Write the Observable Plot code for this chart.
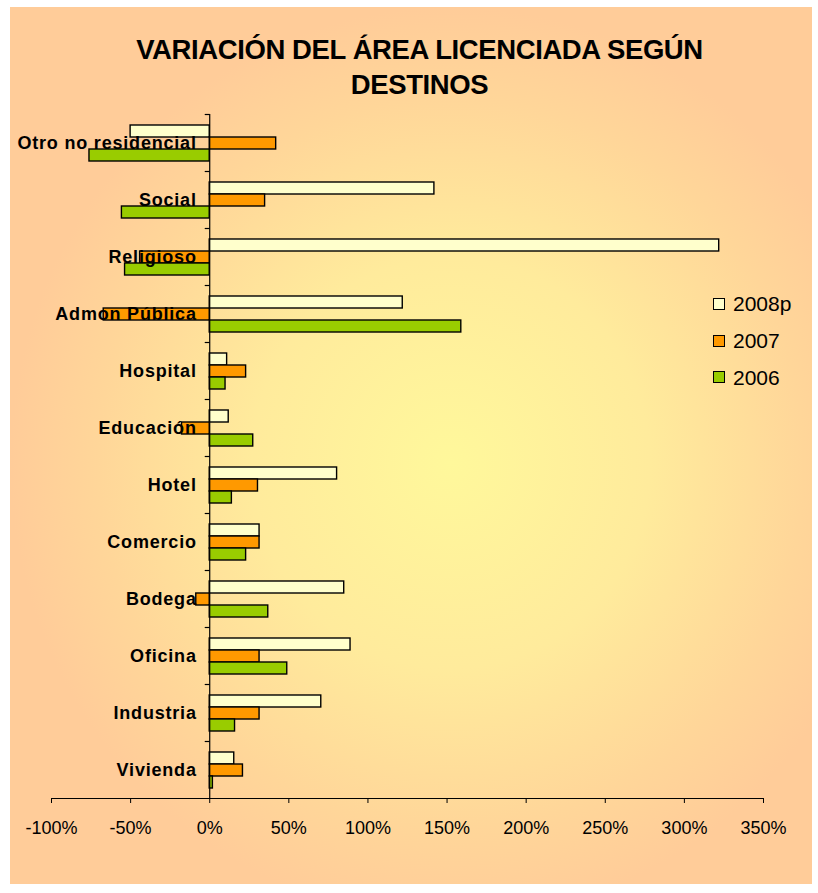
<!DOCTYPE html>
<html>
<head>
<meta charset="utf-8">
<script src="https://cdn.jsdelivr.net/npm/d3@7"></script>
<script src="https://cdn.jsdelivr.net/npm/@observablehq/plot@0.6"></script>
<style>
  html, body { margin: 0; padding: 0; background: #ffffff; }
  body { width: 818px; height: 893px; position: relative; overflow: hidden; font-family: "Liberation Sans", Arial, sans-serif; }
  #panel { position: absolute; left: 10px; top: 7px; width: 802px; height: 877px;
    background: radial-gradient(ellipse farthest-side at 55% 52%, #fff89b 0%, #ffeb9c 45%, #ffd699 80%, #ffcc99 100%); }
  #title { position: absolute; left: 0; top: 32px; width: 839px; text-align: center; font-weight: bold;
    font-size: 27.5px; letter-spacing: -0.4px; line-height: 35px; color: #000; }
  #chart { position: absolute; left: 0; top: 0; }
  #legend { position: absolute; left: 713px; top: 286px; font-size: 21px; color: #000; }
  #legend .item { height: 36.8px; display: flex; align-items: center; }
  #legend .sw { width: 10px; height: 10px; border: 1.5px solid #000; margin-right: 8px; margin-top: -1px; }
  g[aria-label="text"] text { letter-spacing: 0.8px; }
</style>
</head>
<body>
<div id="panel"></div>
<div id="chart"></div>
<div id="title">VARIACIÓN DEL ÁREA LICENCIADA SEGÚN<br>DESTINOS</div>
<div id="legend"></div>
<script>
const categories = ["Otro no residencial", "Social", "Religioso", "Admon Pública", "Hospital", "Educación", "Hotel", "Comercio", "Bodega", "Oficina", "Industria", "Vivienda"];
const series = ["2008p", "2007", "2006"];
const values2008p = [-50, 142, 322, 122, 11, 12, 80.5, 31.5, 85, 89, 70.5, 15.5];
const values2007 = [42, 35, -44, -67, 23, -17.5, 30.5, 31.5, -8.5, 31.5, 31.5, 21];
const values2006 = [-76, -55.5, -53.5, 159, 10, 27.5, 14, 23, 37, 49, 16, 2];
const xTicks = [-100, -50, 0, 50, 100, 150, 200, 250, 300, 350];
const colors = ["#ffffcc", "#ff9900", "#99cc00"];

const seriesValues = [values2008p, values2007, values2006];
const rows = [];
categories.forEach((c, i) => {
  series.forEach((s, j) => rows.push({category: c, series: s, value: seriesValues[j][i]}));
});

const tickSymbol = {draw(ctx) { ctx.moveTo(-5, 0); ctx.lineTo(0, 0); }};

const chart = Plot.plot({
  width: 818,
  height: 893,
  marginLeft: 51,
  marginRight: 55,
  marginTop: 112,
  marginBottom: 93,
  style: {background: "none", fontFamily: "'Liberation Sans', Arial, sans-serif", fontSize: "18px", color: "#000"},
  x: {domain: [-100, 350], ticks: xTicks, tickFormat: d => `${d}%`, tickSize: 5, tickPadding: 18, line: true, label: null},
  y: {domain: series, paddingInner: 0, paddingOuter: 0.7, axis: null},
  fy: {domain: categories, padding: 0, axis: null},
  color: {domain: series, range: colors},
  marks: [
    Plot.barX(rows, {x: "value", y: "series", fy: "category", fill: "series", stroke: "#000", strokeWidth: 1.4}),
    Plot.ruleX([0], {stroke: "#000", strokeWidth: 1.2}),
    Plot.dot(categories, {fy: d => d, x: () => 0, frameAnchor: "top", symbol: tickSymbol, fill: "none", stroke: "#000", strokeWidth: 1.2}),
    Plot.text(categories, {fy: d => d, x: () => 0, text: d => d, frameAnchor: "middle", textAnchor: "end", dx: -13, fontSize: 18, fontWeight: "bold", fill: "#000"})
  ]
});
document.getElementById("chart").appendChild(chart);

const legend = d3.select("#legend");
series.forEach((s, i) => {
  const item = legend.append("div").attr("class", "item");
  item.append("div").attr("class", "sw").style("background", colors[i]);
  item.append("span").text(s);
});
</script>
</body>
</html>
